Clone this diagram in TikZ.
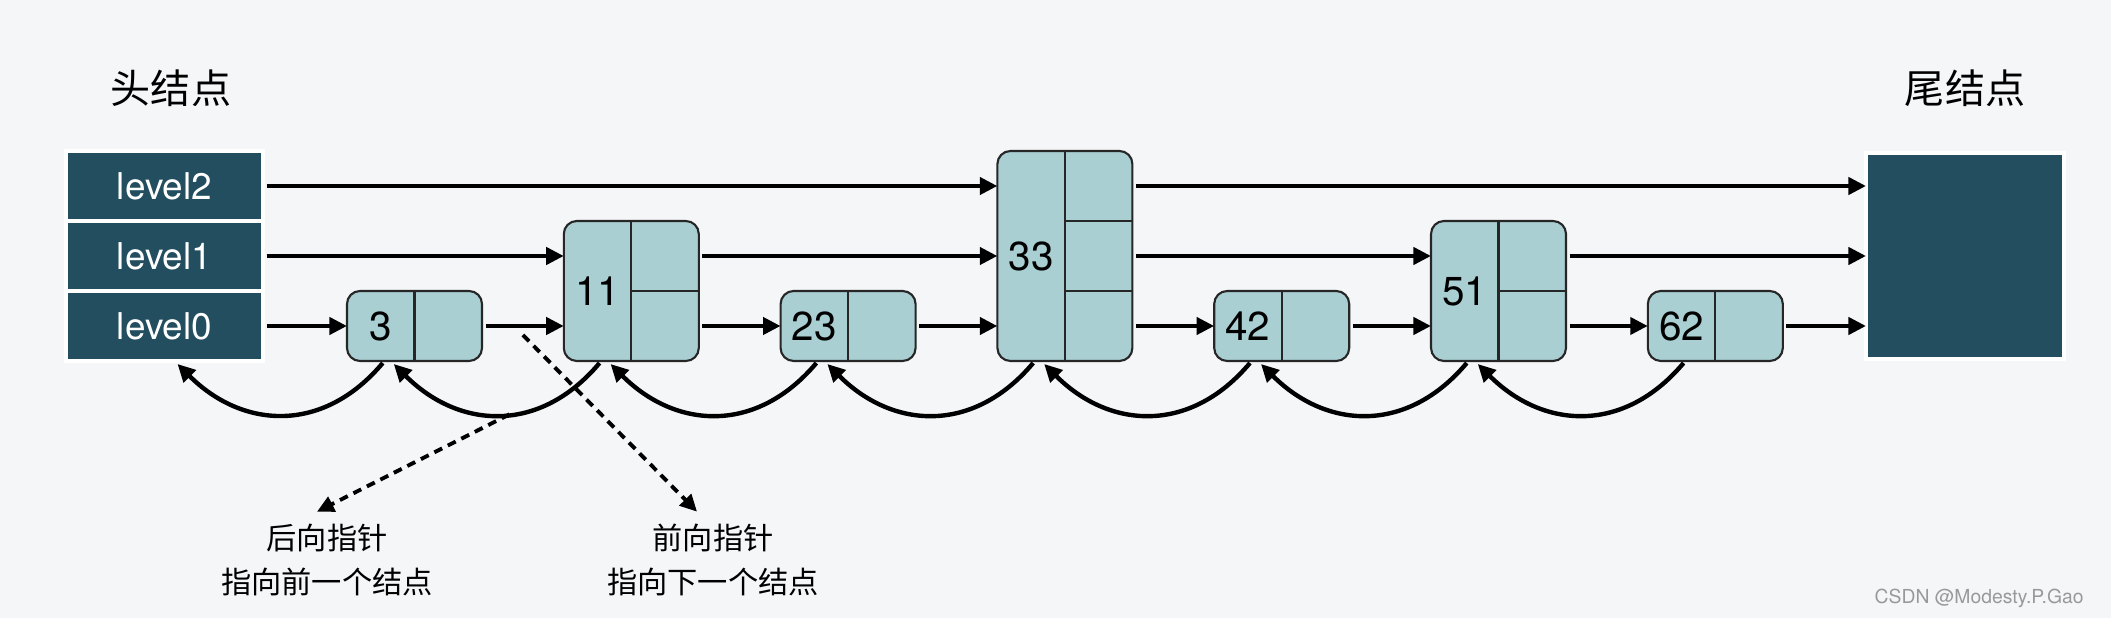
\documentclass[tikz,border=0pt]{standalone}
\usepackage{fontspec}
\setmainfont{TeX Gyre Heros}
\newfontfamily\cjk{Noto Sans CJK SC}
\usetikzlibrary{positioning,arrows.meta,calc}

\definecolor{bgcolor}{HTML}{F4F6F8}
\definecolor{headcolor}{HTML}{224E5F}
\definecolor{nodecolor}{HTML}{A9CFD2}

\tikzstyle{headcell} = [rectangle, fill=headcolor, draw=white, line width=1.2pt, outer sep=0pt, minimum width=1.97cm, minimum height=0.7cm, text=white, font=\fontsize{10.5}{12}\selectfont]
\tikzstyle{tailbox} = [rectangle, fill=headcolor, draw=white, line width=1.2pt, outer sep=0pt, minimum width=1.98cm, minimum height=2.06cm]
\tikzstyle{skipnode} = [rectangle, rounded corners=3.7pt, fill=nodecolor, draw=black!85, line width=0.6pt, outer sep=0pt, minimum width=1.35cm]
\tikzstyle{divider} = [line width=0.6pt, draw=black!85]
\tikzstyle{value} = [inner sep=0pt, font=\fontsize{11.5}{13}\selectfont]
\tikzstyle{title} = [font=\cjk\fontsize{11.4}{13}\selectfont]
\tikzstyle{note} = [align=center, font=\cjk\fontsize{8.6}{12.5}\selectfont]
\tikzstyle{nextarrow} = [line width=1.25pt, shorten <=1pt, -{Triangle[length=5pt,width=4.8pt]}]
\tikzstyle{prevarrow} = [line width=1.25pt, out=-130, in=-45, looseness=1.15, -{Triangle[length=5pt,width=4.8pt]}]
\tikzstyle{notearrow} = [line width=1.1pt, dash pattern=on 2.5pt off 1.8pt, -{Triangle[length=4.8pt,width=4.6pt]}]

\begin{document}
\begin{tikzpicture}
    \useasboundingbox (0,0) rectangle (21.11,6.18);
    \fill[bgcolor] (0,0) rectangle (21.11,6.18);

    % head and tail
    \node (h2) [headcell] at (1.645,4.32) {level2};
    \node (h1) [headcell, below=0pt of h2] {level1};
    \node (h0) [headcell, below=0pt of h1] {level0};
    \node (tail) [tailbox] at (19.65,3.62) {};
    \node (headtitle) [title] at (1.71,5.30) {头结点};
    \node (tailtitle) [title] at (19.65,5.30) {尾结点};
    \coordinate (p0) at (h0.south);

    % skip list nodes
    \foreach \val/\lev [count=\i from 0] in {3/1,11/2,23/1,33/3,42/1,51/2,62/1} {
        \node (n\val) [skipnode, anchor=south, minimum height=\lev*0.7cm] at ({4.145+\i*2.168},2.57) {};
        \draw[divider] (n\val.north) -- (n\val.south);
        \foreach \k in {1,2} {
            \ifnum\k<\lev\relax
                \draw[divider] ($(n\val.south)+(0,\k*0.7)$) -- ($(n\val.south east)+(0,\k*0.7)$);
            \fi
        }
        \node (v\val) [value] at ($(n\val.west)!0.25!(n\val.east)$) {\val};
        \coordinate (p\val) at ($(n\val.south west)!0.25!(n\val.south east)$);
    }

    % forward pointers
    \foreach \a/\b in {h0/n3,n3/n11,n11/n23,n23/n33,n33/n42,n42/n51,n51/n62,n62/tail}
        \draw[nextarrow] (\a.east |- h0) -- (\b.west |- h0);
    \foreach \a/\b in {h1/n11,n11/n33,n33/n51,n51/tail}
        \draw[nextarrow] (\a.east |- h1) -- (\b.west |- h1);
    \foreach \a/\b in {h2/n33,n33/tail}
        \draw[nextarrow] (\a.east |- h2) -- (\b.west |- h2);

    % backward pointers
    \foreach \a/\b in {3/0,11/3,23/11,33/23,42/33,51/42,62/51}
        \draw[prevarrow] ([shift={(0.02,-0.02)}]p\a) to coordinate[pos=0.45] (mid\a) ([shift={(0.13,-0.03)}]p\b);

    % notes
    \coordinate (fwd) at ($(n3.east)!0.5!(n11.west |- h0)$);
    \node (bwdnote) [note] at (3.27,0.58) {后向指针\\指向前一个结点};
    \node (fwdnote) [note] at (7.13,0.58) {前向指针\\指向下一个结点};
    \draw[notearrow] (mid11) -- ([xshift=-0.10cm]bwdnote.north);
    \draw[notearrow] ([yshift=-0.09cm]fwd) -- ([xshift=-0.16cm]fwdnote.north);

    \node (mark) [anchor=east, text=black!40, font=\fontsize{5.5}{6}\selectfont] at (20.96,0.20) {CSDN @Modesty.P.Gao};
\end{tikzpicture}
\end{document}
